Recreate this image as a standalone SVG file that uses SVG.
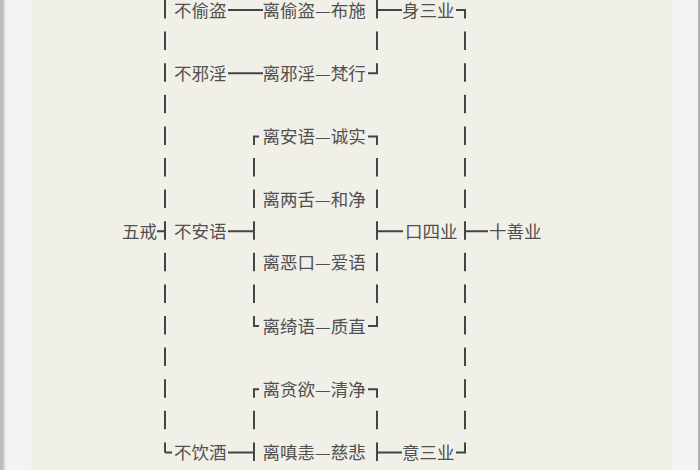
<svg xmlns="http://www.w3.org/2000/svg" width="700" height="470" viewBox="0 0 700 470">
<defs>
<linearGradient id="shadow" x1="0" y1="0" x2="1" y2="0">
<stop offset="0" stop-color="#c4c4c4"/>
<stop offset="0.3" stop-color="#b4b4b4"/>
<stop offset="1" stop-color="#f3f3f3"/>
</linearGradient>
<style>
.t{font-family:"Noto Sans CJK SC","Noto Sans CJK TC",sans-serif;font-size:17.5px;fill:#505050}
.c{fill:none;stroke:#454545;stroke-width:2}
.d{fill:none;stroke:#454545;stroke-width:2;stroke-dasharray:18.5 13.1}
</style>
</defs>
<g id="page">
<rect x="0" y="0" width="700" height="470" fill="#f3f3f3"/>
<rect x="0" y="0" width="6" height="470" fill="url(#shadow)"/>
<rect x="31" y="0" width="641" height="470" fill="#f0efe8"/>
<rect x="698" y="0" width="2" height="470" fill="#b0b0b0"/>
</g>
<g id="connectors">
<line class="d" x1="165" y1="0" x2="165" y2="452.4"/>
<path class="c" d="M165 452.4 H172 M157 231.2 H165"/>
<path class="c" d="M228 10 H263 M228 73.2 H263 M228 231.2 H254 M228 452.4 H254"/>
<path class="c" d="M259 136.4 H254 V144.9 M254 158 V176.5 M254 189.6 V208.1 M254 221.2 V239.7 M254 252.8 V271.3 M254 284.4 V302.9 M254 316 V326 H259 M259 389.2 H254 V397.7 M254 410.8 V429.3 M254 442.4 V460.9"/>
<path class="c" d="M377 0 V18.5 M377 10 H402 M377 31.6 V50.1 M377 63.2 V73.2 H368 M368 136.4 H377 V144.9 M377 158 V176.5 M377 189.6 V208.1 M377 221.2 V239.7 M377 231.2 H403 M377 252.8 V271.3 M377 284.4 V302.9 M377 316 V326 H368 M368 389.2 H377 V397.7 M377 410.8 V429.3 M377 442.4 V460.9 M377 452.4 H402"/>
<line class="d" x1="465" y1="31.6" x2="465" y2="429.3"/>
<path class="c" d="M456 10 H465 V18.5 M465 231.2 H488 M465 442.4 V452.4 H456"/>
</g>
<g id="n-wujie"><text class="t" x="122" y="237.8">五戒</text></g>
<g id="n-butoudao"><text class="t" x="174" y="17.2">不偷盗</text></g>
<g id="n-buxieyin"><text class="t" x="174" y="79.8">不邪淫</text></g>
<g id="n-buanyu"><text class="t" x="174" y="237.8">不安语</text></g>
<g id="n-buyinjiu"><text class="t" x="174" y="459">不饮酒</text></g>
<g id="n-litoudao"><text class="t" x="262.5" y="17.2">离偷盗—布施</text></g>
<g id="n-lixieyin"><text class="t" x="262.5" y="79.8">离邪淫—梵行</text></g>
<g id="n-lianyu"><text class="t" x="262.5" y="143">离安语—诚实</text></g>
<g id="n-liliangshe"><text class="t" x="262.5" y="206.2">离两舌—和净</text></g>
<g id="n-liekou"><text class="t" x="262.5" y="269.4">离恶口—爱语</text></g>
<g id="n-liqiyu"><text class="t" x="262.5" y="332.6">离绮语—质直</text></g>
<g id="n-litanyu"><text class="t" x="262.5" y="395.8">离贪欲—清净</text></g>
<g id="n-lichenhui"><text class="t" x="262.5" y="459">离嗔恚—慈悲</text></g>
<g id="n-shensanye"><text class="t" x="402" y="17.2">身三业</text></g>
<g id="n-kousiye"><text class="t" x="405" y="237.8">口四业</text></g>
<g id="n-yisanye"><text class="t" x="402" y="459">意三业</text></g>
<g id="n-shishanye"><text class="t" x="489" y="237.8">十善业</text></g>
</svg>
